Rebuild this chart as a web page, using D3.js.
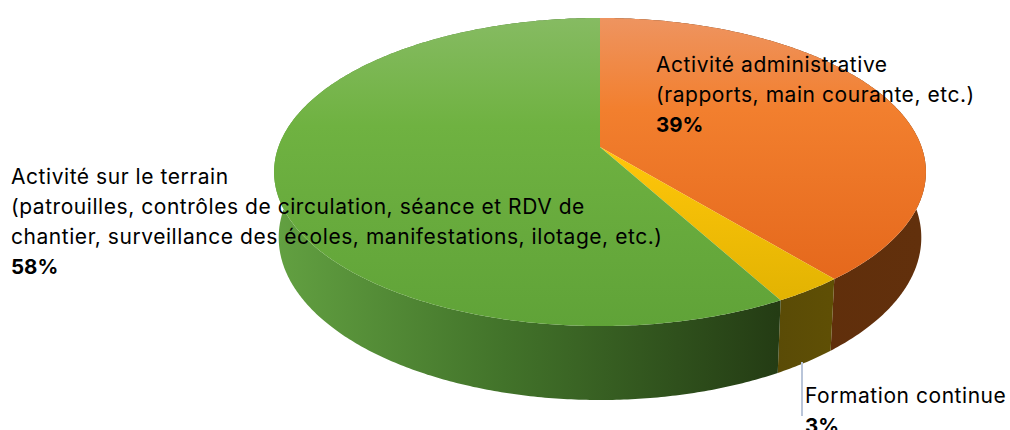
<!DOCTYPE html>
<html>
<head>
<meta charset="utf-8">
<script src="https://cdn.jsdelivr.net/npm/d3@7"></script>
<style>
  html, body { margin: 0; background: #fff; overflow: hidden; }
  text { font-family: "Inter", "Noto Sans", sans-serif; font-size: 21px; letter-spacing: 0.55px; fill: #000; }
  .pct { font-size: 20.5px; font-weight: bold; letter-spacing: 0; }
</style>
</head>
<body>
<div id="chart"></div>
<script>
const categories = ["Activité administrative", "Formation continue", "Activité sur le terrain"];
const shares = [39, 3, 58];
const topStops = [
  [["0%", "#ee9460"], ["35%", "#f27f2e"], ["100%", "#e5681c"]],
  [["0%", "#ffc60a"], ["100%", "#e2b302"]],
  [["0%", "#86bb62"], ["35%", "#6fb241"], ["100%", "#60a338"]]
];
const wallStops = [
  [["0%", "#5c2c0a"], ["100%", "#62300c"]],
  [["0%", "#5a4b06"], ["100%", "#5f4f05"]],
  [["0%", "#62a041"], ["45%", "#42732a"], ["100%", "#243c14"]]
];
const labelLines = [
  { x: 656, y: 72, lines: [["Activité administrative"], ["(rapports, main courante, etc.)"], ["39%", true]] },
  { x: 805, y: 403, lines: [["Formation continue"], ["3%", true]] },
  { x: 11, y: 184, lines: [["Activité sur le terrain"], ["(patrouilles, contrôles de circulation, séance et RDV de"], ["chantier, surveillance des écoles, manifestations, ilotage, etc.)"], ["58%", true]] }
];

const width = 1010, height = 430;
const cx = 600, cy = 147;      // where the pie centre lands on screen
const radius = 321.6, squash = 150, persp = 0.1623;
const drop = 65.5, dropPersp = 0.014;   // thickness of the pie

const svg = d3.select("#chart").append("svg")
  .attr("width", width)
  .attr("height", height);
const defs = svg.append("defs");

// perspective view of a point on the rim, h = 0 top face, h = 1 bottom face
function project(angle, h) {
  const u = Math.sin(angle), v = -Math.cos(angle);
  const w = 1 - persp * v + dropPersp * h;
  return [cx + radius * u / w, cy + (squash * v + drop * h) / w];
}

function rim(a0, a1, h) {
  const n = Math.max(2, Math.ceil((a1 - a0) / 0.01));
  return d3.range(n + 1).map(i => project(a0 + (a1 - a0) * i / n, h));
}

const slices = d3.pie().sort(null)(shares);
const line = d3.line();

function gradient(id, stops, x1, y1, x2, y2) {
  const g = defs.append("linearGradient").attr("id", id)
    .attr("gradientUnits", "userSpaceOnUse")
    .attr("x1", x1).attr("y1", y1).attr("x2", x2).attr("y2", y2);
  stops.forEach(s => g.append("stop").attr("offset", s[0]).attr("stop-color", s[1]));
}

// walls first, the top face covers whatever is behind it
slices.forEach((d, i) => {
  const xs = rim(d.startAngle, d.endAngle, 1).map(p => p[0]);
  gradient("wall" + i, wallStops[i], d3.min(xs), 0, d3.max(xs), 0);
  svg.append("path")
    .attr("d", line(rim(d.startAngle, d.endAngle, 0).concat(rim(d.startAngle, d.endAngle, 1).reverse())) + "Z")
    .attr("fill", "url(#wall" + i + ")");
});

slices.forEach((d, i) => {
  gradient("top" + i, topStops[i], 0, i == 1 ? 150 : 18, 0, i == 1 ? 300 : (i == 0 ? 280 : 326));
  svg.append("path")
    .attr("d", line([[cx, cy]].concat(rim(d.startAngle, d.endAngle, 0))) + "Z")
    .attr("fill", "url(#top" + i + ")");
});

// leader for the small slice
svg.append("line")
  .attr("x1", 802).attr("x2", 802)
  .attr("y1", 362).attr("y2", 416)
  .attr("stroke", "#b9c5d9")
  .attr("stroke-width", 2);

labelLines.forEach(l => {
  const t = svg.append("text").attr("x", l.x).attr("y", l.y);
  l.lines.forEach((s, j) => {
    t.append("tspan")
      .attr("x", l.x)
      .attr("dy", j == 0 ? 0 : 30)
      .attr("class", s[1] ? "pct" : null)
      .text(s[0]);
  });
});
</script>
</body>
</html>
